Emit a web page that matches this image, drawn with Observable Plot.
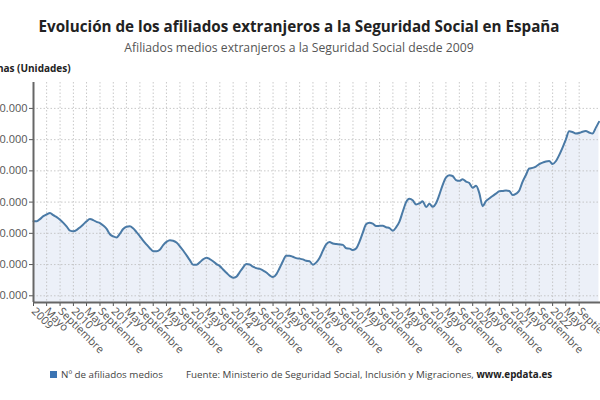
<!DOCTYPE html>
<html>
<head>
<meta charset="utf-8">
<script src="https://cdn.jsdelivr.net/npm/d3@7"></script>
<script src="https://cdn.jsdelivr.net/npm/@observablehq/plot@0.6"></script>
<style>
  body { margin: 0; background: #fff; }
  #wrap { position: relative; width: 600px; height: 400px; overflow: hidden; background: #fff; font-family: "Open Sans", sans-serif; }
  #title { position: absolute; top: 16px; left: 0; width: 598px; text-align: center; font-weight: bold; font-size: 15.2px; color: #222; }
  #sub { position: absolute; top: 39px; left: 0; width: 598px; text-align: center; font-size: 12.2px; color: #555; }
  #ylab { position: absolute; top: 61px; left: -31px; font-weight: bold; font-size: 10px; color: #222; white-space: nowrap; }
  #chart { position: absolute; top: 75px; left: -40px; }
  #foot { position: absolute; top: 368px; left: 50px; font-size: 9.8px; color: #444; white-space: nowrap; }
  #foot .sq { display: inline-block; width: 7px; height: 7px; background: #3b74b3; margin-right: 4px; vertical-align: 0px; }
  #foot .src { margin-left: 23px; }
</style>
</head>
<body>
<div id="wrap">
  <div id="title">Evolución de los afiliados extranjeros a la Seguridad Social en España</div>
  <div id="sub">Afiliados medios extranjeros a la Seguridad Social desde 2009</div>
  <div id="ylab">Personas (Unidades)</div>
  <div id="chart"></div>
  <div id="foot"><span class="sq"></span>Nº de afiliados medios<span class="src">Fuente: Ministerio de Seguridad Social, Inclusión y Migraciones, <b style="color:#222">www.epdata.es</b></span></div>
</div>
<script>
// Serie mensual desde enero de 2009 (afiliados medios extranjeros)
const inicioAnio = 2009;
const afiliados = [
  1878000,1878000,1891000,1910000,1921000,1931000,1916000,1904000,1887000,1867000,1843000,1817000,
  1813000,1822000,1838000,1857000,1877000,1891000,1885000,1873000,1866000,1850000,1828000,1794000,
  1780000,1774000,1796000,1828000,1842000,1845000,1832000,1808000,1781000,1754000,1728000,1705000,
  1686000,1685000,1695000,1725000,1745000,1756000,1753000,1741000,1717000,1690000,1659000,1628000,
  1599000,1599000,1614000,1633000,1644000,1635000,1621000,1603000,1590000,1568000,1547000,1527000,
  1516000,1523000,1550000,1581000,1603000,1600000,1586000,1577000,1572000,1562000,1549000,1531000,
  1520000,1539000,1576000,1621000,1657000,1657000,1650000,1641000,1638000,1633000,1624000,1621000,
  1599000,1614000,1642000,1689000,1729000,1744000,1735000,1731000,1729000,1726000,1704000,1702000,
  1693000,1704000,1745000,1804000,1858000,1868000,1862000,1847000,1848000,1849000,1839000,1833000,
  1817000,1840000,1873000,1938000,1998000,2021000,2012000,1985000,1992000,2005000,1968000,1989000,
  1970000,1994000,2045000,2109000,2157000,2172000,2167000,2141000,2136000,2146000,2131000,2122000,
  2092000,2105000,2059000,1974000,2006000,2023000,2039000,2054000,2069000,2071000,2074000,2071000,
  2045000,2054000,2072000,2130000,2172000,2215000,2219000,2228000,2243000,2253000,2260000,2263000,
  2244000,2263000,2299000,2347000,2399000,2453000,2449000,2440000,2443000,2451000,2455000,2446000,
  2439000,2477000,2514000
];
const ticksY = [1400000, 1600000, 1800000, 2000000, 2200000, 2400000, 2600000];
const nombresMes = {0: null, 4: "Mayo", 8: "Septiembre"};
const ultimoTick = "2022-09-01";
const dominioY = [1357000, 2766000];

const datos = afiliados.map((v, i) => ({fecha: new Date(Date.UTC(inicioAnio, i, 1)), valor: v}));
const x0 = new Date(Date.UTC(inicioAnio, 0, 1));
const x1 = new Date(Date.UTC(inicioAnio, afiliados.length - 1, 15));
const ticksX = d3.utcMonth.every(4).range(x0, new Date(ultimoTick + "T12:00:00Z"));
const fmtY = d => d3.format(",")(d).replace(/,/g, ".");
const fmtX = d => { const m = d.getUTCMonth(); return m === 0 ? String(d.getUTCFullYear()) : nombresMes[m]; };

const plot = Plot.plot({
  width: 640,
  height: 290,
  marginLeft: 73,
  marginRight: 0,
  marginTop: 7,
  marginBottom: 63,
  style: {fontFamily: "Open Sans", fontSize: "11px", color: "#555", background: "transparent", overflow: "visible"},
  x: {type: "utc", domain: [x0, x1]},
  y: {domain: dominioY},
  marks: [
    Plot.areaY(datos, {x: "fecha", y1: dominioY[0], y2: "valor", fill: "#ecf0f8", curve: "monotone-x"}),
    Plot.gridX(ticksX, {stroke: "#bbb", strokeOpacity: 1, strokeDasharray: "1.5,2", strokeWidth: 0.8}),
    Plot.gridY(ticksY, {stroke: "#bbb", strokeOpacity: 1, strokeDasharray: "1.5,2", strokeWidth: 0.8}),
    Plot.lineY(datos, {x: "fecha", y: "valor", stroke: "#4a7aa6", strokeWidth: 2, curve: "monotone-x"}),
    Plot.axisX(ticksX, {tickFormat: fmtX, tickRotate: 45, tickSize: 4, tickPadding: 3, fill: "#555", stroke: "#555", label: null, fontSize: 11}),
    Plot.axisY(ticksY, {tickFormat: fmtY, tickSize: 4, tickPadding: 2, fill: "#555", stroke: "#555", label: null, fontSize: 11}),
    Plot.ruleX([x0], {stroke: "#666", strokeWidth: 2}),
    Plot.ruleY([dominioY[0]], {stroke: "#666", strokeWidth: 2})
  ]
});
document.getElementById("chart").appendChild(plot);
</script>
</body>
</html>
